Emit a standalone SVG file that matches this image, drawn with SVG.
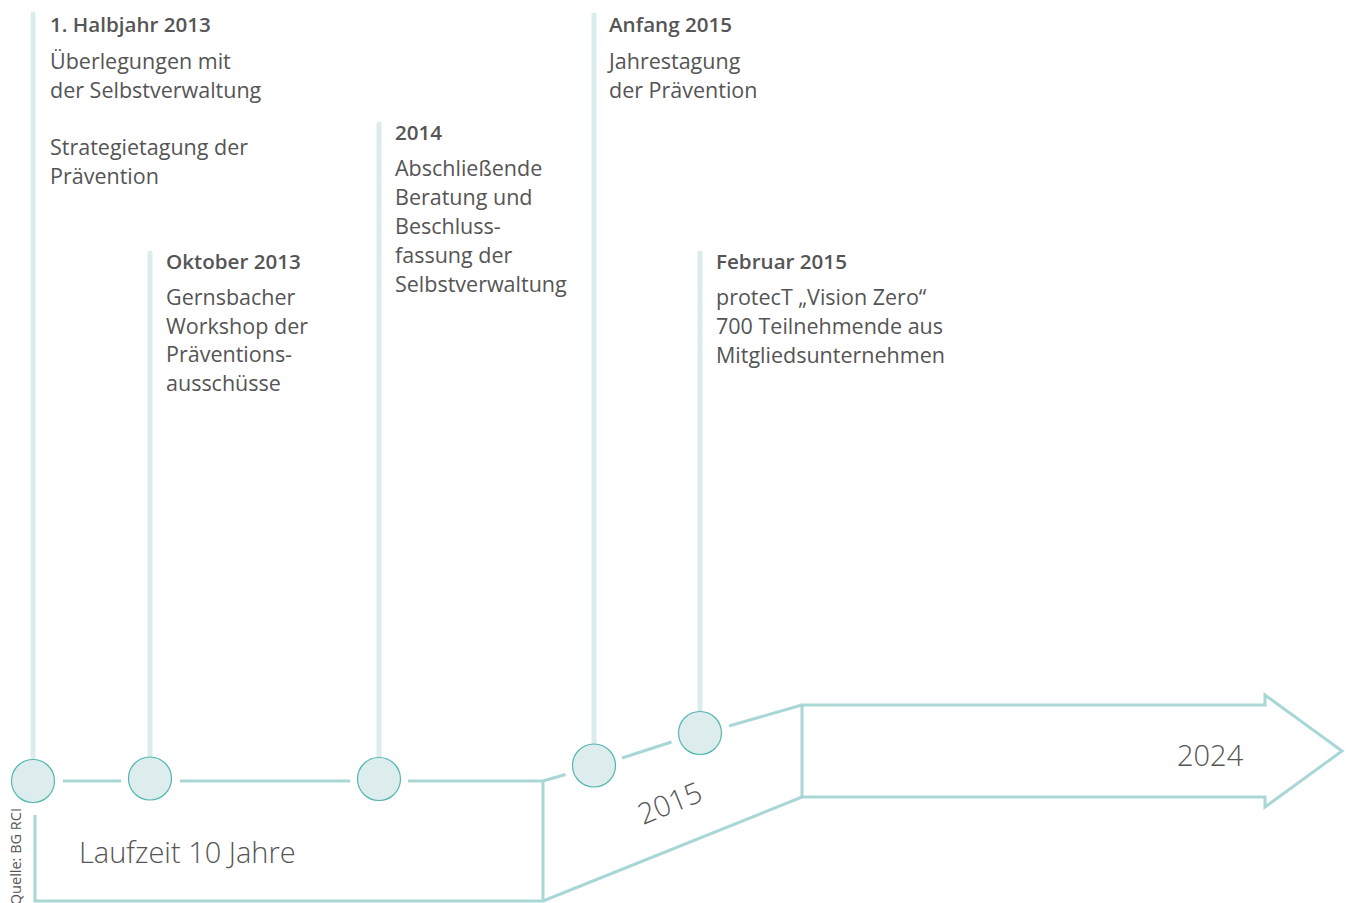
<svg xmlns="http://www.w3.org/2000/svg" width="1346" height="903" viewBox="0 0 1346 903">
<style>
.bg{fill:#ffffff}
.stem{stroke:#dcecec;stroke-width:5;stroke-linecap:round;fill:none}
.axis{stroke:#a9d7d6;stroke-width:3;fill:none;stroke-linejoin:miter}
.dot{fill:#ddecec;stroke:#52b7b2;stroke-width:1.2}
.t{font-family:"Open Sans","Noto Sans",sans-serif;fill:#555555}
.h{font-size:20.6px;font-weight:600}
.b{font-size:21.5px;font-weight:400}
.big{font-size:29px;font-weight:300}
.src{font-size:14.5px}
</style>
<rect class="bg" x="0" y="0" width="1346" height="903"/>
<g id="connectors">
  <path class="stem" d="M33 14V760"/>
  <path class="stem" d="M150 253V757"/>
  <path class="stem" d="M379 124V757"/>
  <path class="stem" d="M594 15V744"/>
  <path class="stem" d="M700 253V711"/>
  <path class="axis" d="M63 781H121"/>
  <path class="axis" d="M180 781H350"/>
  <path class="axis" d="M408 781H543L565.5 774.5"/>
  <path class="axis" d="M622 758L671.5 742"/>
  <path class="axis" d="M729 726L802 705"/>
  <path class="axis" d="M35 815V901H543V781"/>
  <path class="axis" d="M543 901L802 797"/>
  <path class="axis" d="M802 705H1265V695L1342 751L1265 807V797H802Z"/>
</g>
<g id="node-2013-h1">
  <ellipse class="dot" cx="33" cy="781" rx="21.5" ry="21.5"/>
  <text class="t h" x="50" y="31.5">1. Halbjahr 2013</text>
  <text class="t b" x="50" y="69">Überlegungen mit</text>
  <text class="t b" x="50" y="97.5">der Selbstverwaltung</text>
  <text class="t b" x="50" y="155">Strategietagung der</text>
  <text class="t b" x="50" y="184">Prävention</text>
</g>
<g id="node-2013-oct">
  <ellipse class="dot" cx="150" cy="778.5" rx="21.5" ry="21.5"/>
  <text class="t h" x="166" y="268.5">Oktober 2013</text>
  <text class="t b" x="166" y="305">Gernsbacher</text>
  <text class="t b" x="166" y="334">Workshop der</text>
  <text class="t b" x="166" y="362">Präventions-</text>
  <text class="t b" x="166" y="391">ausschüsse</text>
</g>
<g id="node-2014">
  <ellipse class="dot" cx="379" cy="779" rx="21.5" ry="21.5"/>
  <text class="t h" x="395" y="139.5">2014</text>
  <text class="t b" x="395" y="176">Abschließende</text>
  <text class="t b" x="395" y="205">Beratung und</text>
  <text class="t b" x="395" y="234">Beschluss-</text>
  <text class="t b" x="395" y="263">fassung der</text>
  <text class="t b" x="395" y="292">Selbstverwaltung</text>
</g>
<g id="node-2015-start">
  <ellipse class="dot" cx="594" cy="765.5" rx="21.5" ry="21.5"/>
  <text class="t h" x="609" y="31.5">Anfang 2015</text>
  <text class="t b" x="609" y="69">Jahrestagung</text>
  <text class="t b" x="609" y="97.5">der Prävention</text>
</g>
<g id="node-2015-feb">
  <ellipse class="dot" cx="700" cy="733" rx="21.5" ry="21.5"/>
  <text class="t h" x="716" y="268.5">Februar 2015</text>
  <text class="t b" x="716" y="305">protecT „Vision Zero“</text>
  <text class="t b" x="716" y="334">700 Teilnehmende aus</text>
  <text class="t b" x="716" y="363">Mitgliedsunternehmen</text>
</g>
<g id="labels">
  <text class="t big" x="79" y="863">Laufzeit 10 Jahre</text>
  <text class="t big" x="1177" y="766">2024</text>
  <text class="t big" transform="translate(643 825) rotate(-22)">2015</text>
  <text class="t src" transform="translate(21 808) rotate(-90)" text-anchor="end">Quelle: BG RCI</text>
</g>
</svg>
